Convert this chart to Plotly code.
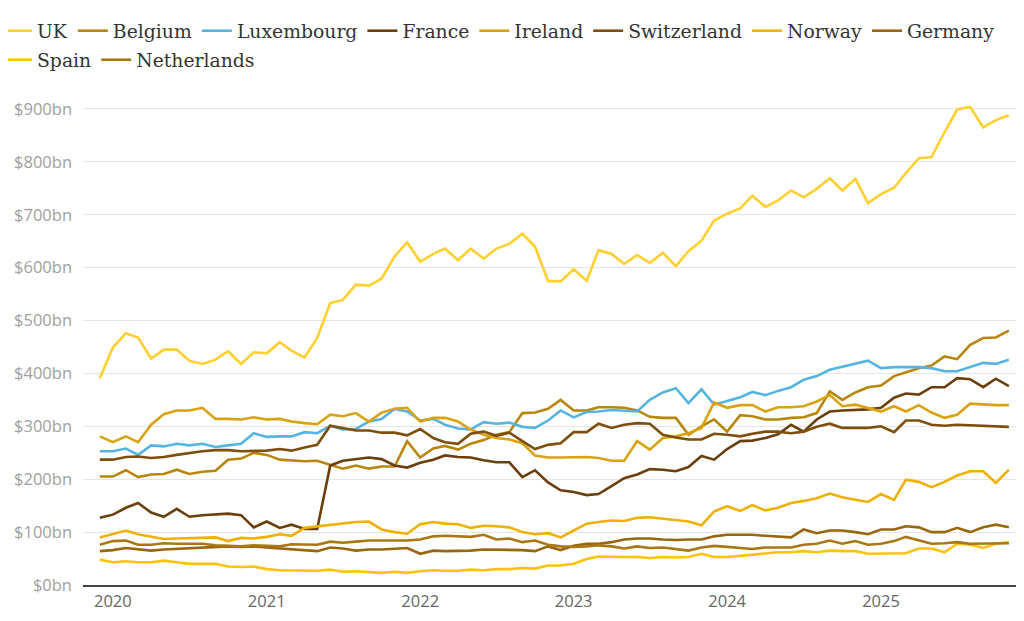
import pandas as pd
import plotly.graph_objects as go

# Monthly dates: Dec 2019 .. Nov 2025 (72 points)
months = pd.date_range("2019-12-01", "2025-11-01", freq="MS")

uk = [391, 449, 476, 468, 428, 445, 445, 424, 418, 426, 442, 418, 440, 438, 459, 443, 430, 467, 533, 539,
      568, 566, 579, 621, 648, 611, 626, 636, 614, 636, 617, 636, 645, 664, 640, 575, 574, 597, 575, 633,
      626, 607, 624, 609, 628, 603, 631, 651, 689, 702, 712, 736, 715, 727, 746, 733, 749, 769, 746, 768,
      722, 739, 751, 779, 807, 809, 856, 899, 904, 865, 879, 888]
belgium = [205, 205, 217, 204, 209, 210, 218, 210, 214, 216, 237, 239, 250, 246, 237, 235, 234, 235, 227, 220,
           226, 220, 224, 224, 272, 241, 258, 263, 256, 267, 274, 284, 289, 325, 326, 333, 350, 330, 330, 336,
           336, 335, 330, 318, 316, 316, 284, 300, 313, 290, 321, 319, 313, 313, 316, 317, 325, 366, 350, 364,
           374, 377, 395, 402, 410, 415, 432, 427, 454, 467, 468, 481]
luxembourg = [253, 253, 258, 246, 264, 262, 267, 264, 267, 261, 264, 267, 287, 280, 281, 281, 289, 287, 301, 294,
              295, 309, 314, 333, 328, 311, 314, 303, 296, 294, 308, 305, 307, 299, 297, 311, 330, 317, 327, 328,
              331, 330, 328, 350, 364, 372, 344, 370, 341, 348, 355, 365, 359, 367, 374, 388, 395, 407, 413, 418,
              424, 410, 412, 412, 412, 410, 404, 404, 412, 420, 418, 426]
france = [127, 133, 146, 155, 137, 129, 144, 129, 132, 133, 135, 132, 109, 120, 108, 114, 106, 106, 226, 235,
          238, 241, 238, 226, 222, 231, 237, 245, 242, 241, 236, 232, 232, 204, 217, 194, 179, 176, 170, 172,
          187, 202, 209, 219, 218, 215, 223, 244, 237, 257, 272, 273, 278, 285, 303, 290, 313, 328, 330, 331,
          332, 335, 354, 362, 360, 374, 374, 391, 389, 374, 390, 376]
ireland = [281, 270, 281, 270, 303, 323, 330, 330, 335, 314, 314, 313, 317, 313, 314, 309, 306, 304, 322, 319,
           325, 309, 326, 333, 335, 309, 316, 316, 309, 294, 284, 278, 275, 268, 245, 241, 241, 242, 242, 240,
           235, 235, 272, 256, 278, 281, 287, 297, 345, 335, 340, 340, 328, 336, 336, 338, 347, 359, 338, 341,
           335, 328, 338, 328, 340, 326, 316, 322, 343, 341, 340, 340]
switzerland = [237, 237, 242, 243, 240, 242, 246, 250, 253, 255, 255, 253, 254, 254, 257, 254, 260, 265, 301, 296,
               292, 292, 288, 288, 283, 295, 278, 270, 267, 286, 290, 282, 288, 272, 257, 265, 268, 289, 289, 305,
               297, 303, 306, 305, 284, 279, 275, 275, 286, 284, 281, 286, 290, 290, 287, 290, 299, 305, 297, 297,
               297, 300, 289, 311, 311, 303, 301, 303, 302, 301, 301, 299]
norway = [90, 97, 103, 96, 92, 87, 88, 89, 90, 90, 83, 89, 88, 91, 96, 93, 108, 111, 114, 117,
          119, 120, 105, 100, 97, 115, 119, 116, 115, 108, 112, 111, 109, 100, 96, 98, 90, 103, 116, 119,
          122, 121, 127, 128, 125, 123, 120, 113, 139, 149, 140, 151, 141, 146, 155, 159, 164, 173, 166, 161,
          157, 172, 161, 199, 195, 185, 195, 207, 215, 215, 193, 218]
germany = [64, 66, 70, 68, 65, 67, 68, 70, 71, 71, 73, 72, 73, 71, 69, 67, 66, 64, 71, 69,
           65, 67, 67, 68, 70, 59, 65, 64, 64, 65, 67, 67, 67, 66, 64, 73, 66, 74, 78, 78,
           81, 86, 88, 88, 86, 85, 86, 86, 92, 95, 95, 95, 93, 91, 90, 105, 98, 103, 103, 100,
           96, 105, 105, 111, 109, 100, 100, 108, 100, 109, 114, 109]
spain = [48, 43, 45, 43, 43, 46, 43, 40, 40, 40, 35, 34, 35, 30, 28, 28, 27, 27, 29, 25,
         26, 25, 23, 25, 23, 26, 28, 27, 27, 29, 28, 30, 30, 32, 31, 37, 37, 40, 49, 54,
         53, 53, 53, 51, 53, 52, 53, 59, 53, 53, 55, 57, 60, 62, 62, 64, 62, 65, 64, 64,
         59, 59, 60, 60, 69, 69, 62, 78, 76, 70, 78, 81]
netherlands = [76, 83, 84, 76, 76, 79, 78, 78, 78, 75, 74, 73, 75, 74, 73, 77, 77, 76, 82, 80,
               82, 84, 84, 84, 84, 86, 92, 93, 92, 91, 95, 86, 88, 81, 84, 76, 73, 72, 73, 75,
               73, 69, 73, 70, 71, 68, 65, 71, 74, 72, 70, 68, 71, 71, 71, 76, 78, 84, 78, 83,
               76, 78, 83, 91, 84, 78, 79, 81, 78, 78, 79, 79]

series = [
    ("UK", uk, "#FFD02F", "legend"),
    ("Belgium", belgium, "#B8860B", "legend"),
    ("Luxembourg", luxembourg, "#56B4E3", "legend"),
    ("France", france, "#6B3F0C", "legend"),
    ("Ireland", ireland, "#D9A20E", "legend"),
    ("Switzerland", switzerland, "#7E4E0C", "legend"),
    ("Norway", norway, "#F0B000", "legend"),
    ("Germany", germany, "#97660D", "legend"),
    ("Spain", spain, "#FFC20A", "legend2"),
    ("Netherlands", netherlands, "#A97714", "legend2"),
]

yticks = [0, 100, 200, 300, 400, 500, 600, 700, 800, 900]
yticklabels = [f"${v}bn" for v in yticks]

fig = go.Figure()
for name, vals, col, leg in series:
    fig.add_trace(go.Scatter(x=months, y=vals, name=name, mode="lines", legend=leg,
                             line=dict(color=col, width=2.6)))

plot_left, plot_right = 75, 1016
plot_top, plot_bottom = 95, 577
plot_w = plot_right - plot_left

def ypaper(py):
    return (plot_bottom - py) / (plot_bottom - plot_top)

legend_font = dict(family="DejaVu Serif", size=18.8, color="#333333")
common_leg = dict(orientation="h", x=(-11 - plot_left) / plot_w, xanchor="left", yref="paper",
                  yanchor="middle", font=legend_font, itemwidth=30, bgcolor="rgba(0,0,0,0)")

fig.update_layout(
    width=1024, height=621,
    margin=dict(l=plot_left, r=1024 - plot_right, t=plot_top, b=621 - plot_bottom, autoexpand=False),
    paper_bgcolor="white", plot_bgcolor="white",
    showlegend=True,
    legend=dict(y=ypaper(23), **common_leg),
    legend2=dict(y=ypaper(52), **common_leg),
    xaxis=dict(type="date", range=["2019-10-22", "2025-12-07"],
               tickvals=["2020-01-01", "2021-01-01", "2022-01-01", "2023-01-01", "2024-01-01", "2025-01-01"],
               ticktext=["2020", "2021", "2022", "2023", "2024", "2025"],
               showgrid=False, showline=True, linecolor="#444444", linewidth=1.5,
               ticks="", tickfont=dict(family="Open Sans", size=16.5, color="#666666"), zeroline=False),
    yaxis=dict(range=[0, 911.3], tickvals=yticks, ticktext=yticklabels,
               showgrid=True, gridcolor="#e5e5e5", gridwidth=1, zeroline=False,
               ticks="", ticklabelstandoff=10,
               tickfont=dict(family="Open Sans", size=16.5, color="#a0a0a0")),
)

fig.write_html("out.html")
